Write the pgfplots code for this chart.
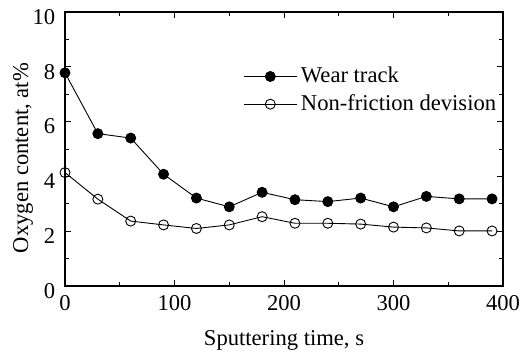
\documentclass[border=0pt]{standalone}
\usepackage{fontspec}
\setmainfont{Liberation Serif}
\usepackage{pgfplots}
\usetikzlibrary{calc}
\pgfplotsset{compat=1.18}
\begin{document}
\fontsize{11}{13}\selectfont
\begin{tikzpicture}
\begin{axis}[
  name=ax,
  scale only axis,
  width=219pt, height=137pt,
  xmin=0, xmax=400, ymin=0, ymax=10,
  xtick={0,100,200,300,400},
  ytick={0,2,4,6,8,10},
  minor x tick num=1, minor y tick num=1,
  tick align=inside,
  major tick length=3pt, minor tick length=2pt,
  axis line style={line width=0.7pt},
  tick style={line width=0.5pt, black},
  /pgf/number format/assume math mode=true,
  ticklabel style={font=\fontsize{11.3}{13}\selectfont},
  xticklabel style={yshift=-1pt},
  yticklabel style={xshift=-1pt, yshift=-2.5pt},
  xlabel={Sputtering time, s},
  ylabel={Oxygen content, at\%},
  xlabel style={at={(rel axis cs:0.5,0)}, anchor=center, yshift=-27pt},
  ylabel style={at={(rel axis cs:0,0.467)}, anchor=center, yshift=21pt},
  label style={font=\fontsize{11.3}{13}\selectfont},
  clip=false,
  legend style={draw=none, fill=none, at={(axis cs:161,8.3)}, anchor=north west,
    font=\fontsize{11.3}{13}\selectfont, row sep=0.3pt, inner xsep=1pt},
  legend cell align=left,
  legend image code/.code={%
    \draw[mark repeat=2,mark phase=2] plot coordinates {(0cm,0cm) (0.46cm,0cm) (0.92cm,0cm)};},
]
\addplot[black, line width=0.45pt, mark=*, mark options={fill=black, scale=1.25}] coordinates {
(0,7.78) (30,5.56) (60,5.40) (90,4.08) (120,3.21) (150,2.89) (180,3.42)
(210,3.15) (240,3.08) (270,3.21) (300,2.89) (330,3.27) (360,3.18) (390,3.18)};
\addlegendentry{Wear track}
\addplot[black, line width=0.45pt, mark=o, mark options={fill=white, scale=1.25}] coordinates {
(0,4.14) (30,3.17) (60,2.37) (90,2.23) (120,2.10) (150,2.23) (180,2.53)
(210,2.29) (240,2.29) (270,2.26) (300,2.15) (330,2.12) (360,2.01) (390,2.01)};
\addlegendentry{Non-friction devision}
\draw[black, line width=0.7pt] (rel axis cs:0,0) -- (rel axis cs:1,0);
\end{axis}
\pgfresetboundingbox
\path ($(ax.south west)+(-32.5pt,-37pt)$) rectangle ($(ax.north east)+(11.5pt,6pt)$);
\end{tikzpicture}
\end{document}
